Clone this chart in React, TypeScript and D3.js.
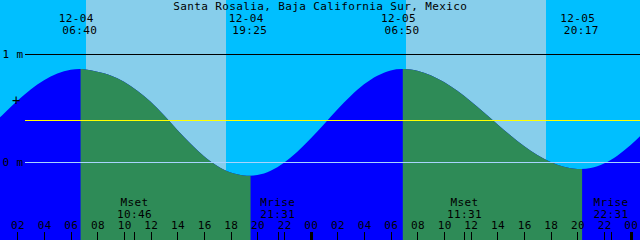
import React from 'react';
import * as d3 from 'd3';

const W = 640;
const H = 240;

const title = 'Santa Rosalia, Baja California Sur, Mexico';

// tide readings (hours from 12-04 00:00, level in metres)
const tideHours = [-1, 0, 1, 2, 3, 4, 5, 6, 6.667, 7, 8, 9, 10, 11, 12, 13, 14, 15, 16, 17, 18, 19, 19.417,
  20, 21, 22, 23, 24, 25, 26, 27, 28, 29, 30, 30.833, 31, 32, 33, 34, 35, 36, 37, 38, 39, 40, 41, 42, 43, 44, 44.283,
  45, 46, 47, 48, 49];
const tideLevels = [0.212, 0.33, 0.45, 0.567, 0.671, 0.757, 0.819, 0.854, 0.861, 0.859, 0.835, 0.802, 0.744, 0.66, 0.557, 0.432, 0.297, 0.168, 0.053, -0.037, -0.097, -0.124, -0.127,
  -0.121, -0.081, -0.007, 0.094, 0.217, 0.35, 0.485, 0.611, 0.719, 0.799, 0.848, 0.861, 0.861, 0.844, 0.803, 0.74, 0.659, 0.563, 0.458, 0.35, 0.245, 0.148, 0.064, -0.001, -0.044, -0.064, -0.065,
  -0.056, -0.014, 0.059, 0.157, 0.274];

const tideEventHours = [6.667, 19.417, 30.833, 44.283];
const tideEventTypes = ['high', 'low', 'high', 'low'];
const tideEventDates = ['12-04', '12-04', '12-05', '12-05'];
const tideEventTimes = ['06:40', '19:25', '06:50', '20:17'];

const sunriseHours = [7.15, 31.15];
const sunsetHours = [17.65, 41.65];

const moonEventHours = [10.767, 21.517, 35.517, 46.517];
const moonEventNames = ['Mset', 'Mrise', 'Mset', 'Mrise'];
const moonEventTimes = ['10:46', '21:31', '11:31', '22:31'];

const hourTicks = [2, 4, 6, 8, 10, 12, 14, 16, 18, 20, 22, 24, 26, 28, 30, 32, 34, 36, 38, 40, 42, 44, 46, 48];

const levelTicks = [1, 0];
const levelLabels = ['1 m', '0 m'];
const meanLevel = 0.389;
const markLevel = 0.574;

const COLORS = {
  night: '#00BFFF',
  day: '#87CEEB',
  flood: '#0000FF',
  ebb: '#2E8B57',
  msl: '#FFFF00',
  datum: '#a8d4ff',
};

const FONT = '"DejaVu Sans Mono", "Liberation Mono", monospace';
const FS = 11;
const LS = 0.38;

export default function App() {
  const x = d3.scaleLinear().domain([0, 48]).range([-9.33, 630.67]);
  const y = d3.scaleLinear().domain([0, 1]).range([162, 54]);

  const pts: [number, number][] = tideHours.map((h, i) => [h, tideLevels[i]]);
  const area = d3
    .area<[number, number]>()
    .x((d) => x(d[0]))
    .y0(H)
    .y1((d) => y(d[1]))
    .curve(d3.curveMonotoneX);
  const areaPath = area(pts) || '';

  // ebb intervals: from each high to the following low
  const ebb: [number, number][] = [];
  tideEventHours.forEach((h, i) => {
    if (tideEventTypes[i] === 'high') {
      const end = i + 1 < tideEventHours.length ? tideEventHours[i + 1] : 50;
      ebb.push([h, end]);
    }
  });

  const px = (v: number) => Math.round(v) + 0.5;
  const tx = (v: number) => v + LS / 2;

  return (
    <svg
      width={W}
      height={H}
      viewBox={`0 0 ${W} ${H}`}
      style={{ position: 'absolute', left: 0, top: 0, display: 'block' }}
      fontFamily={FONT}
      fontSize={FS}
      letterSpacing={LS}
    >
      <defs>
        {ebb.map(([a, b], i) => (
          <clipPath id={`ebb${i}`} key={i}>
            <rect x={x(a) + 1} y={0} width={x(b) - x(a)} height={H} />
          </clipPath>
        ))}
      </defs>
      <rect x={0} y={0} width={W} height={H} fill={COLORS.night} />
      {sunriseHours.map((s, i) => (
        <rect
          key={`day${i}`}
          x={Math.round(x(s))}
          y={0}
          width={Math.round(x(sunsetHours[i])) - Math.round(x(s))}
          height={H}
          fill={COLORS.day}
        />
      ))}
      <path d={areaPath} fill={COLORS.flood} />
      {ebb.map((_, i) => (
        <path key={`e${i}`} d={areaPath} fill={COLORS.ebb} clipPath={`url(#ebb${i})`} />
      ))}

      {/* reference lines */}
      <line x1={25} x2={W} y1={px(y(1))} y2={px(y(1))} stroke="#000" strokeWidth={1} shapeRendering="crispEdges" />
      <line x1={25} x2={W} y1={px(y(meanLevel))} y2={px(y(meanLevel))} stroke={COLORS.msl} strokeWidth={1} shapeRendering="crispEdges" />
      <line x1={25} x2={W} y1={px(y(0))} y2={px(y(0))} stroke={COLORS.datum} strokeWidth={1} shapeRendering="crispEdges" />

      {/* level labels */}
      {levelTicks.map((lv, i) => (
        <text key={`lv${i}`} x={2.5} y={y(lv) + 4} fill="#000">
          {levelLabels[i]}
        </text>
      ))}
      <text x={16.5} y={y(markLevel) + 5} textAnchor="middle" fontSize={14} fill="#000">
        +
      </text>

      {/* title */}
      <text x={tx(320)} y={10} textAnchor="middle" fill="#000">
        {title}
      </text>

      {/* tide event labels */}
      {tideEventHours.map((h, i) => (
        <g key={`te${i}`}>
          <text x={tx(x(h) - 3.5)} y={21.5} textAnchor="middle" fill="#000">
            {tideEventDates[i]}
          </text>
          <text x={tx(x(h))} y={33.5} textAnchor="middle" fill="#000">
            {tideEventTimes[i]}
          </text>
        </g>
      ))}

      {/* moon event labels */}
      {moonEventHours.map((h, i) => (
        <g key={`me${i}`}>
          <text x={tx(x(h))} y={206} textAnchor="middle" fill="#000">
            {moonEventNames[i]}
          </text>
          <text x={tx(x(h))} y={217.5} textAnchor="middle" fill="#000">
            {moonEventTimes[i]}
          </text>
          <line x1={px(x(h))} x2={px(x(h))} y1={232} y2={H} stroke="#000" strokeWidth={1} shapeRendering="crispEdges" />
        </g>
      ))}

      {/* hour ticks */}
      {hourTicks.map((h) => {
        const isMidnight = h % 24 === 0;
        const xx = isMidnight ? Math.round(x(h)) + 0.5 : px(x(h));
        return (
          <g key={`h${h}`}>
            <text x={tx(x(h) + 0.5)} y={229.3} textAnchor="middle" fill="#000">
              {String(h % 24).padStart(2, '0')}
            </text>
            <line
              x1={xx}
              x2={xx}
              y1={232}
              y2={H}
              stroke="#000"
              strokeWidth={isMidnight ? 3 : 1}
              shapeRendering="crispEdges"
            />
          </g>
        );
      })}
    </svg>
  );
}
